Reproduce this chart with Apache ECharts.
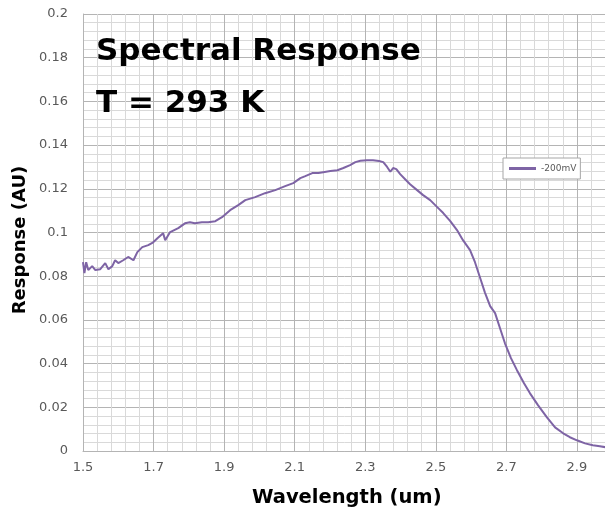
<!DOCTYPE html>
<html>
<head>
<meta charset="utf-8">
<script src="https://cdn.jsdelivr.net/npm/echarts@6/dist/echarts.min.js"></script>
<style>
  html, body { margin: 0; padding: 0; background: #ffffff; }
  #chart { width: 605px; height: 519px; }
</style>
</head>
<body>
<div id="chart"></div>
<script>
// Wavelength samples (um)
const wavelength = [
  1.500, 1.504, 1.509, 1.515, 1.526, 1.535, 1.549, 1.563, 1.572, 1.583,
  1.591, 1.600, 1.614, 1.628, 1.643, 1.654, 1.668, 1.685, 1.699, 1.711,
  1.727, 1.733, 1.747, 1.770, 1.789, 1.803, 1.817, 1.837, 1.855, 1.875,
  1.894, 1.917, 1.940, 1.960, 1.988, 2.016, 2.045, 2.073, 2.096, 2.116,
  2.130, 2.150, 2.167, 2.181, 2.201, 2.221, 2.238, 2.257, 2.272, 2.286,
  2.305, 2.322, 2.339, 2.351, 2.362, 2.371, 2.379, 2.388, 2.399, 2.413,
  2.427, 2.447, 2.464, 2.484, 2.504, 2.521, 2.541, 2.560, 2.577, 2.597,
  2.611, 2.625, 2.639, 2.654, 2.668, 2.682, 2.696, 2.713, 2.730, 2.750,
  2.767, 2.790, 2.815, 2.838, 2.861, 2.880, 2.900, 2.923, 2.945, 2.965,
  2.982
];

// Detector response at -200 mV bias (arbitrary units)
const response200mV = [
  0.0864, 0.0814, 0.0864, 0.0828, 0.0846, 0.0828, 0.0832, 0.0860, 0.0832, 0.0846,
  0.0873, 0.0860, 0.0873, 0.0888, 0.0873, 0.0910, 0.0933, 0.0942, 0.0955, 0.0974,
  0.0997, 0.0965, 0.1002, 0.1020, 0.1042, 0.1047, 0.1042, 0.1047, 0.1047, 0.1052,
  0.1070, 0.1102, 0.1125, 0.1148, 0.1162, 0.1180, 0.1194, 0.1212, 0.1226, 0.1249,
  0.1258, 0.1272, 0.1272, 0.1276, 0.1281, 0.1285, 0.1295, 0.1308, 0.1322, 0.1328,
  0.1331, 0.1331, 0.1327, 0.1322, 0.1300, 0.1278, 0.1295, 0.1290, 0.1267, 0.1244,
  0.1221, 0.1194, 0.1171, 0.1148, 0.1116, 0.1089, 0.1052, 0.1011, 0.0965, 0.0919,
  0.0864, 0.0795, 0.0726, 0.0663, 0.0631, 0.0562, 0.0493, 0.0425, 0.0370, 0.0310,
  0.0264, 0.0209, 0.0154, 0.0108, 0.0081, 0.0063, 0.0049, 0.0035, 0.0026, 0.0022,
  0.0017
];

const seriesName = '-200mV';
const titleLines = ['Spectral Response', 'T = 293 K'];
const xAxisTitle = 'Wavelength (um)';
const yAxisTitle = 'Response (AU)';

const points = wavelength.map((w, i) => [w, response200mV[i]]);

const chart = echarts.init(document.getElementById('chart'), null, { renderer: 'canvas' });

const majorGrid = '#b4b4b4';
const minorGrid = '#d9d9d9';
const labelColor = '#595959';
const fontFamily = '"DejaVu Sans", sans-serif';

chart.setOption({
  backgroundColor: '#ffffff',
  animation: false,
  // the plot runs on past the right edge of the page; only up to ~2.98 um is visible
  grid: { left: 83, top: 14, bottom: 68, right: -42.5, containLabel: false, outerBoundsMode: 'none' },
  title: [
    {
      text: titleLines[0], left: 91, top: 31,
      textStyle: { fontFamily: fontFamily, fontWeight: 'bold', fontSize: 31, color: '#000000' }
    },
    {
      text: titleLines[1], left: 91, top: 83,
      textStyle: { fontFamily: fontFamily, fontWeight: 'bold', fontSize: 31, color: '#000000' }
    }
  ],
  legend: {
    left: 503, top: 158,
    padding: [6, 4, 6, 6],
    backgroundColor: '#ffffff',
    borderColor: '#a6a6a6', borderWidth: 1,
    icon: 'rect', itemWidth: 27, itemHeight: 3,
    textStyle: { fontFamily: fontFamily, fontSize: 9, color: labelColor },
    data: [seriesName]
  },
  xAxis: {
    type: 'value', min: 1.5, max: 3.1, interval: 0.2,
    name: xAxisTitle, nameLocation: 'middle', nameGap: 37,
    // centre the title under the visible 1.5-3.0 span
    nameTextStyle: {
      fontFamily: fontFamily, fontWeight: 'bold', fontSize: 19.5, color: '#000000',
      padding: [0, 37, 0, 0]
    },
    axisLine: { show: true, lineStyle: { color: majorGrid, width: 1 } },
    axisTick: { show: false },
    axisLabel: { margin: 10, fontFamily: fontFamily, fontSize: 13, color: labelColor },
    splitLine: { show: true, lineStyle: { color: majorGrid, width: 1 } },
    minorTick: { show: false, splitNumber: 5 },
    minorSplitLine: { show: true, lineStyle: { color: minorGrid, width: 1 } }
  },
  yAxis: {
    type: 'value', min: 0, max: 0.2, interval: 0.02,
    axisLine: { show: true, lineStyle: { color: majorGrid, width: 1 } },
    axisTick: { show: false },
    axisLabel: { margin: 15, fontFamily: fontFamily, fontSize: 13, color: labelColor },
    splitLine: { show: true, lineStyle: { color: majorGrid, width: 1 } },
    minorTick: { show: false, splitNumber: 5 },
    minorSplitLine: { show: true, lineStyle: { color: minorGrid, width: 1 } }
  },
  graphic: [
    {
      type: 'text', x: 20, y: 240, rotation: Math.PI / 2,
      style: {
        text: yAxisTitle, fontFamily: fontFamily, fontWeight: 'bold', fontSize: 18,
        fill: '#000000', align: 'center', verticalAlign: 'middle'
      }
    }
  ],
  series: [
    {
      name: seriesName, type: 'line', data: points,
      showSymbol: false, symbol: 'none',
      lineStyle: { color: '#7e64a5', width: 2 },
      itemStyle: { color: '#7e64a5' }
    }
  ]
});
</script>
</body>
</html>
